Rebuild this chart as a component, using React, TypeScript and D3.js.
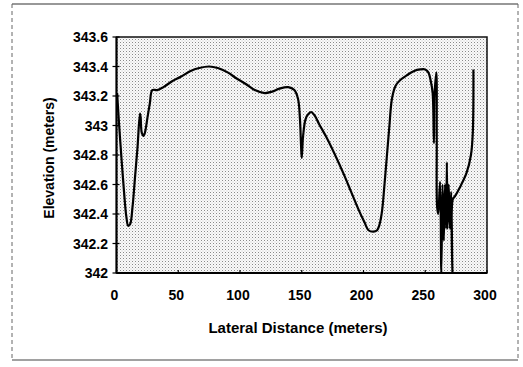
import React from "react";
import * as d3 from "d3";

// Lateral distance (m) of each survey point, in survey order
const distance: number[] = [
  0.5, 2, 4, 6, 8, 9.5, 11, 13, 15, 17,
  19, 19.5, 20.5, 22, 23.5, 25, 27, 29, 33, 38,
  45, 52, 60, 67, 75, 82, 90, 97, 105, 112,
  120, 126, 132, 139, 144, 147, 148.5, 149.5, 150, 151,
  153, 155.5, 158, 161, 164, 170, 177, 184, 190, 196,
  201, 204, 208, 211, 213, 215, 217, 219, 221, 223,
  226, 230, 235, 241, 246, 250, 252.5, 254.5, 256, 257,
  257.5, 259, 259.3, 259.6, 260.5, 262, 263, 264, 265, 266,
  267, 267.5, 268, 269, 270, 271, 272, 272.3, 274, 278,
  283.5, 287, 288.5, 289,
];

// Elevation (m) of each survey point
const elevation: number[] = [
  343.22, 343.02, 342.78, 342.56, 342.38, 342.32, 342.33, 342.45, 342.65, 342.85,
  343.08, 343.06, 342.95, 342.93, 342.97, 343.05, 343.15, 343.24, 343.24, 343.26,
  343.3, 343.33, 343.37, 343.39, 343.4, 343.39, 343.36, 343.32, 343.28, 343.24,
  343.22, 343.23, 343.25, 343.26, 343.24, 343.18, 343.05, 342.85, 342.78, 342.92,
  343.04, 343.08, 343.09, 343.06, 343.01, 342.92, 342.8, 342.67, 342.55, 342.43,
  342.34, 342.29, 342.28, 342.29, 342.33, 342.42, 342.6, 342.8, 343.0, 343.18,
  343.27, 343.31, 343.34, 343.37, 343.38, 343.38, 343.36, 343.3, 343.22, 342.88,
  343.2, 343.36, 342.9, 342.45, 342.4, 342.62, 342.0, 342.6, 342.22, 342.6,
  342.3, 342.75, 342.3, 342.6, 342.3, 342.55, 342.0, 342.5, 342.52, 342.58,
  342.68, 342.8, 342.95, 343.38,
];

const xTicks: number[] = [0, 50, 100, 150, 200, 250, 300];
const yTicks: number[] = [342, 342.2, 342.4, 342.6, 342.8, 343, 343.2, 343.4, 343.6];
const xTitle = "Lateral Distance (meters)";
const yTitle = "Elevation (meters)";

const W = 523;
const H = 367;
const L = 116.5;
const R = 487;
const T = 37;
const B = 273;

export default function App() {
  const x = d3.scaleLinear().domain([0, 300]).range([L, R]);
  const y = d3.scaleLinear().domain([342, 343.6]).range([B, T]);
  const pts: [number, number][] = distance.map((d, i) => [d, elevation[i]]);
  const line = d3
    .line<[number, number]>()
    .x((d) => x(d[0]))
    .y((d) => y(d[1]))
    .curve(d3.curveCatmullRom.alpha(0.5));
  const font = "'Liberation Sans', Arial, sans-serif";

  return (
    <svg
      width={W}
      height={H}
      style={{ position: "absolute", left: 0, top: 0, background: "#fff" }}
    >
      <defs>
        <pattern id="stip" width={3} height={3} patternUnits="userSpaceOnUse">
          <rect width={3} height={3} fill="#fafafa" />
          <rect x={0} y={0} width={1} height={1} fill="#8a8a8a" />
          <rect x={1.5} y={1.5} width={1} height={1} fill="#c8c8c8" />
        </pattern>
      </defs>

      {/* outer frame */}
      <line x1={12} y1={4} x2={518} y2={4} stroke="#333" strokeWidth={1.2} />
      <line x1={12} y1={360} x2={518} y2={360} stroke="#444" strokeWidth={1.2} />
      <line x1={12} y1={4} x2={12} y2={360} stroke="#666" strokeWidth={1} strokeDasharray="4,3" />
      <line x1={518} y1={4} x2={518} y2={360} stroke="#666" strokeWidth={1} strokeDasharray="4,3" />

      {/* plot area */}
      <rect x={L} y={T} width={R - L} height={B - T} fill="url(#stip)" stroke="#111" strokeWidth={1.5} />
      <line x1={L} y1={B} x2={R} y2={B} stroke="#000" strokeWidth={2} />
      <line x1={L} y1={T} x2={L} y2={B} stroke="#000" strokeWidth={2} />

      {/* y ticks */}
      {yTicks.map((t) => (
        <g key={"y" + t}>
          <line x1={L - 4} x2={L + 3} y1={y(t)} y2={y(t)} stroke="#000" strokeWidth={1.2} />
          <text
            x={108}
            y={y(t)}
            dy="0.36em"
            textAnchor="end"
            fontFamily={font}
            fontSize={14}
            fontWeight="bold"
            fill="#000"
          >
            {d3.format("")(+t.toFixed(1))}
          </text>
        </g>
      ))}

      {/* x ticks */}
      {xTicks.map((t) => (
        <g key={"x" + t}>
          <line x1={x(t)} x2={x(t)} y1={B} y2={B - 3} stroke="#000" strokeWidth={1.2} />
          <text
            x={x(t) - 2}
            y={295}
            dy="0.36em"
            textAnchor="middle"
            fontFamily={font}
            fontSize={14}
            fontWeight="bold"
            fill="#000"
          >
            {t}
          </text>
        </g>
      ))}

      {/* series */}
      <path d={line(pts) || ""} fill="none" stroke="#000" strokeWidth={2.2} strokeLinejoin="round" />

      {/* titles */}
      <text
        x={298}
        y={328}
        dy="0.36em"
        textAnchor="middle"
        fontFamily={font}
        fontSize={15}
        fontWeight="bold"
        fill="#000"
      >
        {xTitle}
      </text>
      <text
        transform={`translate(49,158) rotate(-90)`}
        dy="0.36em"
        textAnchor="middle"
        fontFamily={font}
        fontSize={14}
        fontWeight="bold"
        fill="#000"
      >
        {yTitle}
      </text>
    </svg>
  );
}
